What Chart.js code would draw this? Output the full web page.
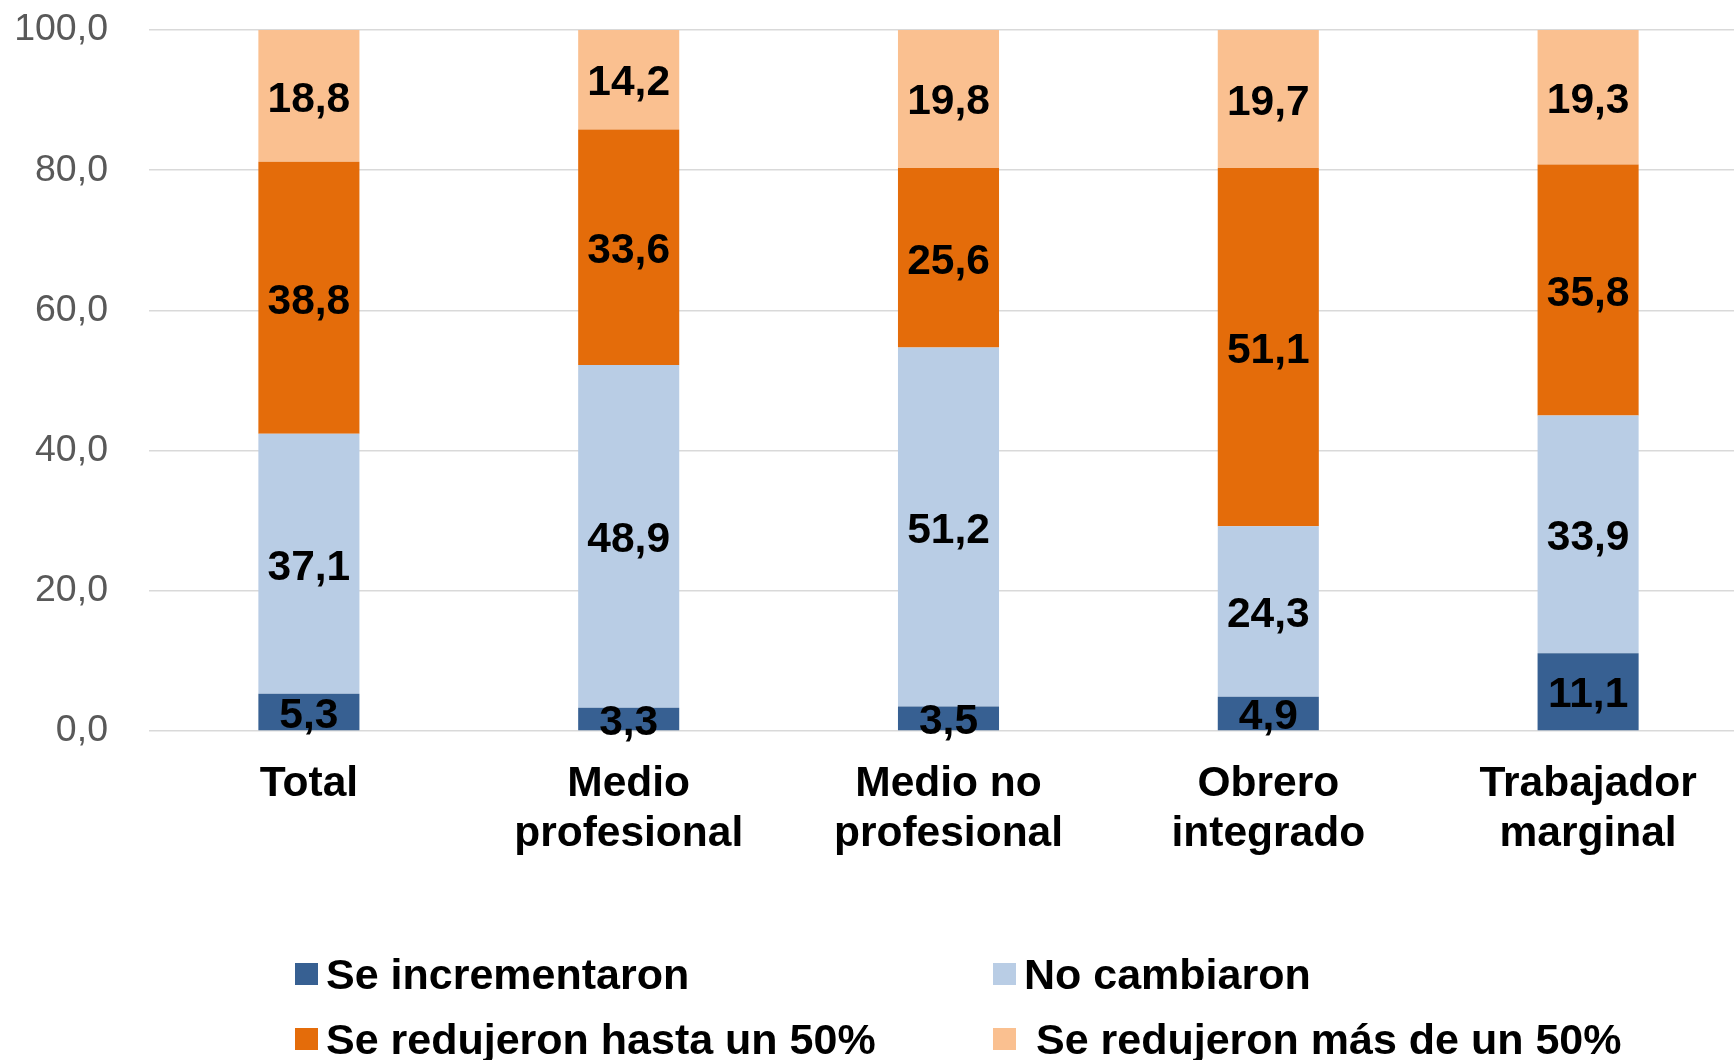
<!DOCTYPE html>
<html>
<head>
<meta charset="utf-8">
<script src="https://cdn.jsdelivr.net/npm/chart.js@4/dist/chart.umd.min.js"></script>
<style>
  html, body { margin: 0; padding: 0; background: #fff; overflow: hidden; }
  #wrap { position: relative; width: 1734px; height: 1060px; overflow: hidden; }
  #wrap canvas { position: absolute; left: 0; top: 0; }
  #legend { position: absolute; left: 0; top: 0; width: 1734px; height: 1060px; pointer-events: none;
            font-family: "Liberation Sans", Arial, sans-serif; font-weight: bold; font-size: 43px; color: #000; }
  .item { position: absolute; white-space: nowrap; line-height: 1; }
  .item span.box { position: absolute; left: 0; width: 23px; height: 22px; }
  .item span.txt { position: absolute; white-space: nowrap; }
</style>
</head>
<body>
<div id="wrap">
  <canvas id="chart"></canvas>
  <div id="legend"></div>
</div>
<script>
// categorias (eje x)
var categories = [['Total'], ['Medio', 'profesional'], ['Medio no', 'profesional'], ['Obrero', 'integrado'], ['Trabajador', 'marginal']];

// series
var seriesNames = ['Se incrementaron', 'No cambiaron', 'Se redujeron hasta un 50%', 'Se redujeron más de un 50%'];
var incrementaron = [5.3, 3.3, 3.5, 4.9, 11.1];
var noCambiaron   = [37.1, 48.9, 51.2, 24.3, 33.9];
var hasta50       = [38.8, 33.6, 25.6, 51.1, 35.8];
var mas50         = [18.8, 14.2, 19.8, 19.7, 19.3];

var colors = ['#376092', '#B9CDE5', '#E46C0A', '#FAC090'];
var yTicks = [0, 20, 40, 60, 80, 100];

function fmt(v) { return v.toFixed(1).replace('.', ','); }

// etiquetas de valores en el centro de cada segmento
var valueLabels = {
  id: 'valueLabels',
  afterDatasetsDraw(chart) {
    var ctx = chart.ctx;
    ctx.save();
    ctx.font = 'bold 42.5px "Liberation Sans", Arial, sans-serif';
    ctx.fillStyle = '#000';
    ctx.textAlign = 'center';
    ctx.textBaseline = 'middle';
    chart.data.datasets.forEach((ds, i) => {
      chart.getDatasetMeta(i).data.forEach((bar, j) => {
        var p = bar.getProps(['x', 'y', 'base'], true);
        ctx.fillText(fmt(ds.data[j]), p.x, (p.y + p.base) / 2 + 4);
      });
    });
    ctx.restore();
  }
};

var canvas = document.getElementById('chart');
canvas.width = 1748;
canvas.height = 1060;
canvas.style.width = '1748px';
canvas.style.height = '1060px';

var chart = new Chart(canvas, {
  type: 'bar',
  data: {
    labels: categories,
    datasets: [incrementaron, noCambiaron, hasta50, mas50].map((d, i) => ({
      label: seriesNames[i],
      data: d,
      backgroundColor: colors[i],
      borderWidth: 0,
      categoryPercentage: 1,
      barPercentage: 0.316
    }))
  },
  options: {
    responsive: false,
    animation: false,
    layout: { padding: 0 },
    plugins: { legend: { display: false }, tooltip: { enabled: false } },
    scales: {
      x: {
        stacked: true,
        grid: { display: false },
        border: { display: false },
        ticks: {
          color: '#000',
          padding: 21,
          font: { family: '"Liberation Sans", Arial, sans-serif', size: 42.5, weight: 'bold', lineHeight: 1.16 }
        },
        afterFit: (scale) => { scale.height = 1060 - 731; }
      },
      y: {
        stacked: true,
        min: 0,
        max: 100,
        afterBuildTicks: (scale) => { scale.ticks = yTicks.map(v => ({ value: v })); },
        grid: { color: '#d9d9d9', lineWidth: 1.5, drawTicks: false },
        border: { display: false },
        ticks: {
          color: '#595959',
          padding: 41,
          font: { family: '"Liberation Sans", Arial, sans-serif', size: 37.5 },
          callback: (v) => fmt(v)
        },
        afterFit: (scale) => { scale.width = 149; scale.paddingTop = 30; scale.paddingBottom = 0; }
      }
    }
  },
  plugins: [valueLabels]
});

// leyenda en dos columnas
var legendPos = [[295, 963], [993, 963], [295, 1028], [993, 1028]];
var legend = document.getElementById('legend');
chart.data.datasets.forEach((ds, i) => {
  var item = document.createElement('div');
  item.className = 'item';
  item.style.left = legendPos[i][0] + 'px';
  item.style.top = legendPos[i][1] + 'px';
  var box = document.createElement('span');
  box.className = 'box';
  box.style.background = ds.backgroundColor;
  box.style.top = '0px';
  var txt = document.createElement('span');
  txt.className = 'txt';
  txt.textContent = ds.label;
  txt.style.left = (i === 3 ? 43 : 31) + 'px';
  txt.style.top = '-10px';
  item.appendChild(box);
  item.appendChild(txt);
  legend.appendChild(item);
});
</script>
</body>
</html>
